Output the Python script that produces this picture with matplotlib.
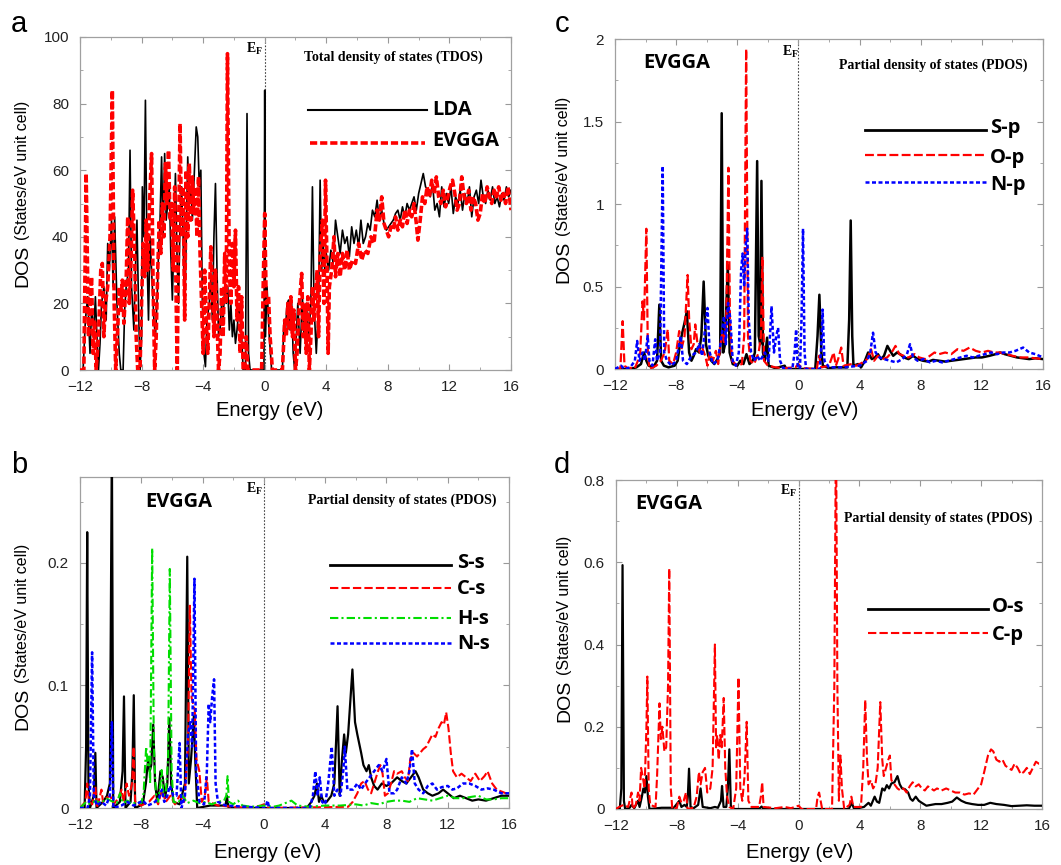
import matplotlib
matplotlib.use("Agg")
import matplotlib.pyplot as plt
from matplotlib.lines import Line2D
from matplotlib.ticker import MultipleLocator, FuncFormatter

plt.rcParams['font.family'] = ['Liberation Sans', 'DejaVu Sans']
plt.rcParams['mathtext.fontset'] = 'custom'
plt.rcParams['mathtext.rm'] = 'Liberation Serif:bold'

# ---------------- data: (Energy eV, DOS) pairs ----------------
# Panel a : total DOS
tdos_lda = [(-12,0),(-11.8,0),(-11.65,15),(-11.5,22),(-11.35,5),(-11.25,18),(-11.1,12),(-11.0,22),(-10.9,10),(-10.8,0),(-10.7,8),(-10.6,20),(-10.45,25),(-10.3,15),(-10.2,38),(-10.1,30),(-9.95,45),(-9.85,25),(-9.75,46),(-9.6,20),(-9.45,5),(-9.35,0),(-9.2,0),(-9.1,18),(-9.0,25),(-8.85,30),(-8.75,66),(-8.65,25),(-8.5,12),(-8.4,30),(-8.3,45),(-8.2,20),(-8.1,0),(-8.0,10),(-7.95,55),(-7.85,40),(-7.75,81),(-7.65,35),(-7.55,15),(-7.45,40),(-7.35,30),(-7.2,15),(-7.1,10),(-7.0,20),(-6.9,35),(-6.8,45),(-6.7,64),(-6.6,40),(-6.5,65),(-6.4,45),(-6.3,50),(-6.2,55),(-6.1,35),(-6.0,21),(-5.9,40),(-5.8,59),(-5.7,35),(-5.6,20),(-5.5,45),(-5.4,55),(-5.3,40),(-5.2,15),(-5.1,40),(-5.0,64),(-4.9,50),(-4.8,55),(-4.7,45),(-4.55,62),(-4.45,73),(-4.35,70),(-4.25,55),(-4.15,60),(-4.05,20),(-3.95,5),(-3.85,1),(-3.75,15),(-3.6,20),(-3.5,28),(-3.4,15),(-3.3,40),(-3.2,56),(-3.1,30),(-3.0,10),(-2.9,12),(-2.8,20),(-2.7,15),(-2.6,25),(-2.5,20),(-2.4,25),(-2.3,12),(-2.2,20),(-2.1,10),(-2.0,15),(-1.9,8),(-1.8,12),(-1.65,20),(-1.5,10),(-1.4,0),(-1.25,0),(-1.15,77),(-1.05,5),(-0.95,0),(-0.05,0),(0.0,84),(0.05,10),(0.15,25),(0.3,10),(0.45,0),(1.15,0),(1.25,15),(1.35,12),(1.45,20),(1.55,21),(1.65,12),(1.75,20),(1.85,5),(1.95,0),(2.05,10),(2.15,20),(2.3,5),(2.45,22),(2.55,10),(2.7,20),(2.85,10),(3.0,20),(3.1,55),(3.2,20),(3.35,5),(3.5,20),(3.6,57),(3.7,30),(3.8,38),(3.9,30),(4.0,35),(4.15,30),(4.3,36),(4.45,32),(4.6,45),(4.75,40),(4.9,35),(5.05,42),(5.2,38),(5.35,40),(5.5,34),(5.65,43),(5.8,38),(5.95,42),(6.1,37),(6.25,45),(6.4,38),(6.55,40),(6.7,44),(6.85,42),(7.0,48),(7.15,46),(7.3,51),(7.45,45),(7.6,48),(7.75,44),(7.9,42),(8.05,43),(8.2,44),(8.35,45),(8.5,47),(8.65,48),(8.8,45),(8.95,49),(9.1,46),(9.25,50),(9.4,48),(9.55,50),(9.7,52),(9.85,48),(10.0,53),(10.15,56),(10.3,59),(10.45,55),(10.6,54),(10.75,52),(10.9,56),(11.05,48),(11.2,50),(11.35,46),(11.5,55),(11.65,49),(11.8,53),(11.95,50),(12.1,55),(12.25,47),(12.4,52),(12.55,50),(12.7,54),(12.85,48),(13.0,53),(13.15,50),(13.3,55),(13.45,46),(13.6,52),(13.75,54),(13.9,50),(14.05,57),(14.2,52),(14.35,50),(14.5,54),(14.65,51),(14.8,55),(14.95,50),(15.1,52),(15.25,49),(15.4,53),(15.55,51),(15.7,55),(15.85,52),(16.0,54)]
tdos_evgga = [(-12.0,0),(-11.75,0),(-11.6,59),(-11.45,10),(-11.35,20),(-11.25,28),(-11.15,5),(-11.05,15),(-10.95,0),(-10.8,10),(-10.65,30),(-10.55,32),(-10.45,10),(-10.35,20),(-10.2,25),(-10.05,40),(-9.9,84),(-9.78,20),(-9.68,0),(-9.55,12),(-9.45,25),(-9.35,18),(-9.25,27),(-9.15,14),(-9.0,27),(-8.9,46),(-8.8,20),(-8.7,30),(-8.58,54),(-8.45,35),(-8.35,10),(-8.25,0),(-8.1,0),(-8.0,20),(-7.9,38),(-7.8,28),(-7.7,45),(-7.6,30),(-7.5,48),(-7.35,65),(-7.25,25),(-7.15,0),(-7.05,10),(-6.95,30),(-6.85,45),(-6.75,35),(-6.65,50),(-6.55,40),(-6.45,62),(-6.35,50),(-6.25,66),(-6.15,45),(-6.05,50),(-5.95,30),(-5.85,55),(-5.75,20),(-5.68,0),(-5.6,40),(-5.5,74),(-5.4,40),(-5.3,55),(-5.2,15),(-5.1,60),(-5.0,40),(-4.9,62),(-4.8,45),(-4.7,58),(-4.6,47),(-4.5,55),(-4.4,40),(-4.3,58),(-4.2,35),(-4.1,20),(-4.0,5),(-3.9,30),(-3.8,15),(-3.7,5),(-3.6,20),(-3.5,37),(-3.4,25),(-3.3,10),(-3.2,30),(-3.1,15),(-3.0,0),(-2.9,5),(-2.8,25),(-2.7,10),(-2.6,35),(-2.5,20),(-2.42,95),(-2.3,30),(-2.2,20),(-2.1,38),(-2.0,25),(-1.9,42),(-1.8,15),(-1.7,25),(-1.6,5),(-1.5,22),(-1.4,0),(-1.3,0),(-1.2,10),(-1.1,0),(-0.2,0),(-0.1,25),(0.0,47),(0.1,20),(0.25,22),(0.35,10),(0.5,0),(1.15,0),(1.3,15),(1.4,10),(1.5,20),(1.6,12),(1.7,22),(1.8,10),(1.9,18),(2.0,0),(2.1,5),(2.25,20),(2.4,29),(2.5,10),(2.6,20),(2.7,5),(2.8,22),(2.9,0),(3.0,10),(3.1,25),(3.2,15),(3.4,30),(3.5,10),(3.6,35),(3.75,45),(3.85,20),(3.95,57),(4.05,30),(4.12,5),(4.2,25),(4.35,30),(4.5,40),(4.6,28),(4.75,35),(4.9,28),(5.05,35),(5.2,30),(5.35,36),(5.5,30),(5.7,33),(5.9,32),(6.1,38),(6.3,33),(6.5,36),(6.7,35),(6.9,40),(7.1,38),(7.3,48),(7.45,45),(7.6,52),(7.75,44),(7.9,42),(8.05,40),(8.2,43),(8.35,42),(8.5,46),(8.65,42),(8.8,45),(8.95,43),(9.1,48),(9.25,44),(9.4,48),(9.55,46),(9.7,50),(9.85,44),(9.95,39),(10.1,45),(10.25,52),(10.4,50),(10.55,55),(10.7,52),(10.85,57),(11.0,53),(11.15,58),(11.3,52),(11.45,50),(11.6,54),(11.75,49),(11.9,52),(12.05,55),(12.2,57),(12.35,53),(12.5,48),(12.65,50),(12.8,58),(12.95,52),(13.1,50),(13.25,54),(13.4,48),(13.55,52),(13.7,50),(13.85,45),(14.0,47),(14.15,53),(14.3,50),(14.45,55),(14.6,52),(14.75,50),(14.9,54),(15.05,52),(15.2,55),(15.35,51),(15.5,53),(15.65,50),(15.8,55),(15.9,52),(16.0,48)]

# Panel b : s-states
pdos_S_s = [(-12,0),(-11.7,0),(-11.6,0.05),(-11.53,0.225),(-11.45,0.02),(-11.35,0.0),(-11.1,0.01),(-11.0,0.045),(-10.92,0.0),(-10.5,0.005),(-10.24,0.01),(-10.05,0.02),(-9.92,0.3),(-9.83,0.0),(-9.4,0.005),(-9.22,0.03),(-9.13,0.091),(-9.03,0.0),(-8.7,0.005),(-8.58,0.03),(-8.49,0.092),(-8.4,0.0),(-7.9,0.003),(-7.7,0.02),(-7.55,0.04),(-7.45,0.03),(-7.35,0.035),(-7.22,0.068),(-7.1,0.02),(-6.95,0.005),(-6.75,0.03),(-6.6,0.025),(-6.45,0.008),(-6.3,0.02),(-6.17,0.073),(-6.05,0.02),(-5.9,0.005),(-5.5,0.003),(-5.15,0.02),(-5.0,0.205),(-4.9,0.02),(-4.75,0.04),(-4.57,0.075),(-4.48,0.04),(-4.35,0.0),(-3.5,0.002),(-2.5,0.002),(-2.42,0.01),(-2.3,0.0),(2.8,0.0),(3.1,0.005),(3.3,0.01),(3.47,0.02),(3.6,0.005),(3.75,0.01),(3.9,0.005),(4.1,0.005),(4.4,0.01),(4.6,0.02),(4.81,0.083),(4.95,0.01),(5.1,0.04),(5.24,0.06),(5.35,0.045),(5.5,0.06),(5.78,0.113),(5.95,0.07),(6.1,0.06),(6.35,0.045),(6.5,0.035),(6.7,0.03),(6.85,0.035),(7.0,0.025),(7.2,0.018),(7.42,0.015),(7.7,0.02),(8.0,0.018),(8.3,0.02),(8.7,0.025),(9.0,0.022),(9.3,0.02),(9.6,0.025),(9.9,0.03),(10.1,0.025),(10.4,0.015),(10.7,0.012),(11.0,0.01),(11.4,0.012),(11.7,0.015),(12.0,0.012),(12.4,0.008),(12.8,0.01),(13.2,0.008),(13.6,0.006),(14.0,0.007),(14.5,0.006),(15.0,0.008),(15.5,0.01),(16.0,0.01)]
pdos_C_s = [(-12,0),(-11.65,0.005),(-11.53,0.02),(-11.42,0.005),(-11.2,0.003),(-11.0,0.018),(-10.88,0.0),(-10.6,0.015),(-10.5,0.005),(-10.3,0.008),(-10.03,0.01),(-9.8,0.003),(-9.5,0.008),(-9.28,0.015),(-9.15,0.005),(-8.96,0.02),(-8.8,0.01),(-8.6,0.02),(-8.5,0.05),(-8.4,0.005),(-8.0,0.002),(-7.5,0.005),(-7.14,0.01),(-6.9,0.003),(-6.65,0.015),(-6.4,0.005),(-6.1,0.01),(-5.8,0.003),(-5.5,0.01),(-5.2,0.005),(-4.95,0.05),(-4.83,0.165),(-4.72,0.09),(-4.51,0.08),(-4.4,0.04),(-4.21,0.03),(-4.05,0.005),(-3.85,0.01),(-3.72,0.025),(-3.6,0.005),(-3.0,0.002),(-1.0,0.0),(-0.2,0.002),(0.0,0.003),(0.3,0.0),(5.5,0.001),(5.8,0.005),(6.1,0.012),(6.35,0.02),(6.57,0.022),(6.8,0.015),(7.0,0.012),(7.2,0.02),(7.45,0.03),(7.6,0.035),(7.75,0.028),(7.9,0.01),(8.1,0.012),(8.3,0.02),(8.5,0.03),(8.7,0.028),(9.0,0.03),(9.2,0.025),(9.4,0.022),(9.56,0.04),(9.75,0.045),(10.0,0.042),(10.2,0.045),(10.4,0.048),(10.6,0.05),(10.8,0.055),(11.0,0.06),(11.2,0.058),(11.4,0.065),(11.6,0.07),(11.75,0.068),(11.9,0.078),(12.05,0.065),(12.2,0.045),(12.35,0.03),(12.6,0.025),(12.9,0.028),(13.2,0.025),(13.5,0.022),(13.8,0.028),(14.1,0.022),(14.4,0.026),(14.6,0.03),(14.9,0.02),(15.2,0.015),(15.6,0.013),(16.0,0.011)]
pdos_H_s = [(-12,0),(-11.6,0.005),(-11.3,0.003),(-11.0,0.006),(-10.6,0.004),(-10.3,0.008),(-10.0,0.006),(-9.6,0.004),(-9.39,0.012),(-9.2,0.004),(-8.9,0.006),(-8.6,0.003),(-8.3,0.005),(-8.0,0.004),(-7.85,0.012),(-7.75,0.035),(-7.68,0.05),(-7.58,0.035),(-7.5,0.042),(-7.42,0.02),(-7.29,0.212),(-7.18,0.05),(-7.05,0.012),(-6.9,0.005),(-6.75,0.02),(-6.67,0.031),(-6.55,0.01),(-6.4,0.012),(-6.25,0.04),(-6.14,0.195),(-6.02,0.03),(-5.9,0.005),(-5.6,0.004),(-5.3,0.01),(-5.0,0.004),(-4.6,0.006),(-4.2,0.004),(-3.8,0.005),(-3.4,0.003),(-3.0,0.005),(-2.6,0.006),(-2.45,0.01),(-2.37,0.026),(-2.28,0.005),(-2.0,0.003),(-1.69,0.006),(-1.4,0.002),(-0.8,0.001),(0.0,0.002),(0.6,0.001),(1.0,0.002),(1.4,0.004),(1.8,0.006),(2.2,0.002),(3.0,0.001),(4.0,0.002),(5.0,0.002),(6.0,0.003),(6.5,0.002),(7.0,0.004),(7.5,0.003),(8.0,0.005),(8.5,0.006),(9.0,0.006),(9.5,0.005),(10.0,0.008),(10.5,0.007),(11.0,0.006),(11.5,0.008),(12.0,0.01),(12.5,0.008),(13.0,0.008),(13.5,0.009),(14.0,0.01),(14.5,0.007),(15.0,0.007),(15.5,0.008),(16.0,0.008)]
pdos_N_s = [(-12,0),(-11.5,0.0),(-11.35,0.01),(-11.21,0.127),(-11.1,0.01),(-10.9,0.002),(-10.6,0.005),(-10.3,0.002),(-10.05,0.01),(-9.92,0.07),(-9.82,0.0),(-9.3,0.002),(-8.9,0.005),(-8.5,0.002),(-7.89,0.006),(-7.6,0.002),(-7.2,0.004),(-6.85,0.008),(-6.65,0.015),(-6.5,0.005),(-6.3,0.01),(-6.14,0.018),(-5.9,0.01),(-5.7,0.01),(-5.5,0.053),(-5.38,0.0),(-5.15,0.01),(-4.95,0.06),(-4.8,0.07),(-4.68,0.05),(-4.53,0.187),(-4.42,0.03),(-4.2,0.005),(-3.9,0.003),(-3.72,0.03),(-3.6,0.085),(-3.5,0.07),(-3.38,0.09),(-3.25,0.105),(-3.15,0.02),(-3.0,0.005),(-2.5,0.002),(0.1,0.0),(0.24,0.006),(0.35,0.0),(3.0,0.0),(3.2,0.01),(3.36,0.03),(3.5,0.01),(3.65,0.025),(3.8,0.005),(4.0,0.003),(4.2,0.02),(4.43,0.05),(4.6,0.01),(4.8,0.015),(5.0,0.01),(5.18,0.03),(5.28,0.05),(5.45,0.015),(5.82,0.015),(6.1,0.02),(6.35,0.015),(6.6,0.02),(6.9,0.025),(7.2,0.03),(7.5,0.035),(7.75,0.03),(8.0,0.04),(8.2,0.012),(8.5,0.012),(8.7,0.015),(9.0,0.025),(9.3,0.02),(9.5,0.03),(9.67,0.048),(9.85,0.02),(10.1,0.015),(10.4,0.012),(10.7,0.018),(11.0,0.02),(11.3,0.015),(11.6,0.017),(12.0,0.018),(12.3,0.015),(12.6,0.016),(13.0,0.02),(13.4,0.02),(13.8,0.018),(14.2,0.015),(14.6,0.016),(15.0,0.015),(15.5,0.012),(16.0,0.012)]

# Panel c : p-states
pdos_S_p = [(-12,0),(-11.0,0),(-10.6,0.01),(-10.3,0.03),(-10.1,0.1),(-9.95,0.05),(-9.8,0.02),(-9.5,0.01),(-9.25,0.05),(-9.1,0.39),(-8.98,0.05),(-8.8,0.02),(-8.5,0.01),(-8.1,0.02),(-7.9,0.05),(-7.75,0.15),(-7.6,0.22),(-7.45,0.28),(-7.3,0.35),(-7.15,0.1),(-7.0,0.05),(-6.85,0.08),(-6.7,0.12),(-6.5,0.1),(-6.35,0.2),(-6.2,0.53),(-6.05,0.15),(-5.9,0.08),(-5.7,0.05),(-5.5,0.03),(-5.3,0.06),(-5.12,0.1),(-5.02,1.55),(-4.92,0.1),(-4.8,0.15),(-4.62,0.63),(-4.5,0.1),(-4.3,0.03),(-4.0,0.02),(-3.8,0.05),(-3.6,0.03),(-3.4,0.09),(-3.2,0.03),(-3.0,0.05),(-2.85,0.1),(-2.7,1.26),(-2.6,0.2),(-2.5,0.15),(-2.42,1.14),(-2.32,0.1),(-2.2,0.05),(-2.05,0.19),(-1.95,0.02),(-1.5,0.005),(-0.9,0.02),(-0.8,0.0),(1.1,0.0),(1.25,0.2),(1.37,0.45),(1.5,0.1),(1.6,0.02),(2.0,0.005),(2.4,0.01),(3.2,0.01),(3.32,0.3),(3.42,0.9),(3.52,0.2),(3.6,0.02),(3.9,0.03),(4.1,0.01),(4.35,0.05),(4.56,0.1),(4.8,0.06),(5.0,0.07),(5.2,0.09),(5.4,0.06),(5.6,0.08),(5.82,0.14),(6.0,0.11),(6.2,0.08),(6.45,0.1),(6.65,0.09),(6.9,0.07),(7.2,0.06),(7.5,0.08),(7.8,0.06),(8.15,0.05),(8.5,0.045),(8.8,0.055),(9.2,0.05),(9.6,0.045),(10.0,0.05),(10.4,0.055),(10.8,0.06),(11.2,0.065),(11.6,0.07),(12.0,0.07),(12.5,0.08),(12.9,0.09),(13.2,0.1),(13.5,0.09),(13.9,0.08),(14.3,0.07),(14.7,0.065),(15.1,0.06),(15.5,0.065),(16.0,0.06)]
pdos_O_p = [(-12,0),(-11.65,0.0),(-11.5,0.29),(-11.38,0.02),(-11.1,0.0),(-10.9,0.01),(-10.7,0.005),(-10.5,0.05),(-10.35,0.1),(-10.2,0.41),(-10.1,0.3),(-9.95,0.85),(-9.85,0.1),(-9.75,0.0),(-9.3,0.02),(-9.0,0.05),(-8.75,0.1),(-8.55,0.24),(-8.45,0.05),(-8.2,0.03),(-8.0,0.1),(-7.8,0.23),(-7.65,0.12),(-7.45,0.2),(-7.25,0.57),(-7.15,0.3),(-7.0,0.12),(-6.85,0.15),(-6.75,0.27),(-6.6,0.15),(-6.45,0.1),(-6.3,0.13),(-6.1,0.08),(-5.95,0.02),(-5.8,0.1),(-5.6,0.05),(-5.4,0.11),(-5.25,0.03),(-5.1,0.15),(-4.98,0.22),(-4.85,0.15),(-4.72,0.3),(-4.58,1.22),(-4.48,0.3),(-4.35,0.05),(-4.0,0.02),(-3.7,0.03),(-3.55,0.2),(-3.42,1.94),(-3.3,0.2),(-3.15,0.05),(-2.9,0.03),(-2.6,0.1),(-2.45,0.2),(-2.36,0.68),(-2.25,0.05),(-2.0,0.02),(-1.5,0.01),(-1.0,0.005),(-0.2,0.01),(0.0,0.03),(0.2,0.005),(1.2,0.0),(1.35,0.08),(1.5,0.01),(2.0,0.02),(2.3,0.1),(2.45,0.02),(2.6,0.06),(2.8,0.13),(2.95,0.02),(3.5,0.03),(3.8,0.02),(4.2,0.04),(4.5,0.06),(4.75,0.12),(4.95,0.05),(5.2,0.08),(5.5,0.06),(5.8,0.07),(6.1,0.1),(6.35,0.14),(6.6,0.09),(6.9,0.08),(7.2,0.07),(7.6,0.09),(7.9,0.07),(8.3,0.06),(8.6,0.08),(8.9,0.1),(9.2,0.09),(9.6,0.1),(10.0,0.09),(10.4,0.12),(10.8,0.11),(11.2,0.13),(11.6,0.11),(12.0,0.1),(12.4,0.11),(12.8,0.1),(13.2,0.1),(13.6,0.09),(14.0,0.08),(14.5,0.07),(15.0,0.07),(15.5,0.065),(16.0,0.06)]
pdos_N_p = [(-12,0),(-11.6,0.02),(-11.4,0.0),(-11.0,0.01),(-10.7,0.05),(-10.55,0.17),(-10.4,0.05),(-10.2,0.1),(-10.05,0.05),(-9.86,0.2),(-9.75,0.05),(-9.55,0.02),(-9.37,0.18),(-9.25,0.05),(-9.05,0.1),(-8.88,1.23),(-8.78,0.1),(-8.6,0.05),(-8.3,0.02),(-8.0,0.05),(-7.7,0.2),(-7.55,0.05),(-7.3,0.03),(-7.0,0.08),(-6.7,0.1),(-6.5,0.15),(-6.3,0.08),(-6.1,0.25),(-5.95,0.37),(-5.8,0.1),(-5.6,0.03),(-5.3,0.05),(-5.1,0.15),(-4.87,0.32),(-4.75,0.15),(-4.6,0.4),(-4.45,0.3),(-4.3,0.05),(-4.1,0.02),(-3.9,0.1),(-3.75,0.6),(-3.65,0.7),(-3.55,0.5),(-3.45,0.75),(-3.35,0.85),(-3.25,0.3),(-3.1,0.1),(-2.9,0.05),(-2.7,0.08),(-2.5,0.05),(-2.2,0.1),(-1.95,0.05),(-1.76,0.38),(-1.6,0.1),(-1.45,0.2),(-1.33,0.25),(-1.2,0.05),(-1.0,0.005),(-0.4,0.0),(-0.25,0.1),(-0.15,0.24),(-0.05,0.02),(0.1,0.0),(0.2,0.3),(0.3,0.85),(0.4,0.1),(0.5,0.0),(1.4,0.0),(1.5,0.15),(1.58,0.36),(1.7,0.05),(2.0,0.01),(3.0,0.01),(4.0,0.02),(4.5,0.05),(4.7,0.1),(4.88,0.22),(5.05,0.1),(5.3,0.07),(5.6,0.06),(6.0,0.05),(6.4,0.04),(6.8,0.06),(7.1,0.09),(7.3,0.15),(7.5,0.07),(7.8,0.05),(8.2,0.06),(8.6,0.04),(9.0,0.05),(9.4,0.04),(9.8,0.05),(10.2,0.06),(10.6,0.07),(11.0,0.08),(11.4,0.07),(11.8,0.08),(12.2,0.09),(12.6,0.1),(13.0,0.09),(13.4,0.1),(13.8,0.1),(14.2,0.11),(14.7,0.13),(15.1,0.1),(15.5,0.09),(16.0,0.07)]

# Panel d : O-s and C-p
pdos_O_s = [(-12,0),(-11.75,0.0),(-11.65,0.05),(-11.57,0.593),(-11.48,0.02),(-11.4,0.0),(-11.1,0.003),(-10.98,0.01),(-10.8,0.002),(-10.55,0.02),(-10.45,0.005),(-10.3,0.03),(-10.2,0.05),(-10.1,0.04),(-10.0,0.08),(-9.9,0.03),(-9.8,0.0),(-9.0,0.003),(-8.2,0.003),(-7.84,0.02),(-7.7,0.005),(-7.5,0.01),(-7.35,0.005),(-7.28,0.03),(-7.2,0.098),(-7.1,0.005),(-6.9,0.002),(-6.6,0.01),(-6.44,0.05),(-6.3,0.005),(-5.8,0.002),(-5.5,0.005),(-5.3,0.003),(-5.1,0.02),(-5.03,0.056),(-4.93,0.005),(-4.75,0.005),(-4.65,0.05),(-4.55,0.145),(-4.45,0.005),(-4.2,0.0),(-2.6,0.0),(-2.43,0.006),(-2.3,0.0),(3.3,0.0),(3.5,0.015),(3.65,0.0),(4.3,0.005),(4.6,0.015),(4.75,0.008),(5.0,0.03),(5.15,0.018),(5.3,0.015),(5.5,0.05),(5.65,0.045),(5.8,0.058),(5.95,0.05),(6.1,0.062),(6.3,0.065),(6.5,0.08),(6.65,0.06),(6.8,0.05),(7.0,0.048),(7.2,0.04),(7.35,0.025),(7.5,0.02),(7.7,0.03),(7.9,0.02),(8.1,0.015),(8.4,0.008),(8.7,0.01),(9.0,0.012),(9.4,0.012),(9.8,0.015),(10.1,0.018),(10.4,0.028),(10.7,0.02),(11.0,0.015),(11.4,0.012),(11.8,0.01),(12.2,0.01),(12.6,0.015),(13.0,0.012),(13.5,0.01),(14.0,0.007),(14.5,0.008),(15.0,0.009),(15.5,0.008),(16.0,0.008)]
pdos_C_p = [(-12,0),(-11.8,0.005),(-11.5,0.01),(-11.2,0.005),(-10.98,0.04),(-10.9,0.0),(-10.7,0.01),(-10.55,0.04),(-10.45,0.02),(-10.35,0.1),(-10.25,0.08),(-10.12,0.05),(-10.0,0.2),(-9.94,0.322),(-9.85,0.05),(-9.75,0.01),(-9.4,0.005),(-9.3,0.08),(-9.14,0.257),(-9.05,0.17),(-8.95,0.2),(-8.82,0.14),(-8.7,0.15),(-8.58,0.3),(-8.5,0.585),(-8.4,0.05),(-8.3,0.0),(-8.0,0.003),(-7.84,0.03),(-7.7,0.015),(-7.55,0.02),(-7.4,0.04),(-7.3,0.0),(-6.9,0.003),(-6.7,0.03),(-6.55,0.09),(-6.44,0.06),(-6.3,0.09),(-6.15,0.1),(-6.0,0.04),(-5.8,0.05),(-5.65,0.1),(-5.5,0.4),(-5.42,0.15),(-5.35,0.18),(-5.25,0.12),(-5.15,0.18),(-5.05,0.15),(-4.92,0.27),(-4.82,0.1),(-4.7,0.03),(-4.55,0.005),(-4.3,0.0),(-4.1,0.05),(-3.95,0.32),(-3.83,0.05),(-3.7,0.02),(-3.55,0.08),(-3.41,0.212),(-3.3,0.02),(-3.1,0.005),(-2.6,0.005),(-2.48,0.03),(-2.39,0.065),(-2.3,0.005),(-1.5,0.002),(-0.92,0.005),(-0.5,0.002),(0.0,0.008),(0.2,0.0),(1.15,0.0),(1.25,0.03),(1.35,0.04),(1.45,0.02),(1.55,0.0),(2.2,0.0),(2.35,0.3),(2.46,0.95),(2.55,0.3),(2.65,0.02),(2.75,0.13),(2.85,0.05),(3.0,0.0),(3.35,0.01),(3.47,0.03),(3.6,0.005),(4.1,0.005),(4.25,0.1),(4.38,0.265),(4.5,0.12),(4.6,0.06),(4.75,0.07),(4.9,0.05),(5.05,0.06),(5.2,0.1),(5.37,0.26),(5.5,0.12),(5.6,0.08),(5.75,0.1),(5.9,0.12),(6.0,0.13),(6.1,0.07),(6.3,0.06),(6.5,0.05),(6.7,0.045),(6.9,0.05),(7.1,0.04),(7.3,0.055),(7.5,0.065),(7.7,0.055),(7.9,0.06),(8.1,0.05),(8.3,0.045),(8.5,0.055),(8.7,0.05),(8.9,0.045),(9.1,0.05),(9.4,0.045),(9.7,0.05),(10.0,0.045),(10.3,0.04),(10.6,0.04),(10.9,0.035),(11.2,0.038),(11.5,0.035),(11.8,0.05),(12.0,0.06),(12.2,0.09),(12.45,0.13),(12.65,0.145),(12.8,0.14),(13.0,0.12),(13.2,0.115),(13.4,0.12),(13.6,0.105),(13.8,0.1),(14.0,0.095),(14.2,0.11),(14.4,0.1),(14.6,0.085),(14.8,0.09),(15.0,0.1),(15.2,0.085),(15.4,0.1),(15.6,0.115),(15.8,0.11),(16.0,0.11)]

x_ticks_major = 4
x_range = (-12, 16)

# ---------------- figure ----------------
W, H = 1061, 865
fig = plt.figure(figsize=(W / 100, H / 100), dpi=100)

RED = '#ff0000'
BLUE = '#0000ff'
GREEN = '#00dd00'
SPINE = '#a0a0a0'

RED_A = (0, (2.0, 0.8))
RED_DASH = (0, (4.0, 1.5))
BLUE_DASH = (0, (1.6, 1.0))
GREEN_DD = (0, (4.0, 1.5, 1.0, 1.5))


def xy(pairs):
    return [p[0] for p in pairs], [p[1] for p in pairs]


def fmt(v, pos):
    s = f"{round(v, 6):g}"
    return s.replace('-', '\u2212')


def make_axes(box, ymax, ymaj, ymin):
    l, t, r, b = box
    ax = fig.add_axes([l / W, 1 - b / H, (r - l) / W, (b - t) / H])
    ax.set_xlim(*x_range)
    ax.set_ylim(0, ymax)
    ax.xaxis.set_major_locator(MultipleLocator(x_ticks_major))
    ax.xaxis.set_minor_locator(MultipleLocator(2))
    ax.yaxis.set_major_locator(MultipleLocator(ymaj))
    ax.yaxis.set_minor_locator(MultipleLocator(ymin))
    ax.xaxis.set_major_formatter(FuncFormatter(fmt))
    ax.yaxis.set_major_formatter(FuncFormatter(fmt))
    ax.tick_params(which='both', direction='in', top=True, right=True,
                   color='#999999', labelsize=11, labelcolor='#222222')
    ax.tick_params(which='major', length=4, width=0.8)
    ax.tick_params(which='minor', length=2.5, width=0.6)
    ax.tick_params(axis='x', pad=7)
    ax.tick_params(axis='y', pad=8)
    for s in ax.spines.values():
        s.set_color(SPINE)
        s.set_linewidth(0.9)
    ax.axvline(0, color='#444444', lw=0.8, ls=(0, (1.5, 1.5)), zorder=1)
    return ax


def ftext(x, y, s, **kw):
    fig.text(x / W, 1 - y / H, s, **kw)


def legline(x0, x1, y, **kw):
    fig.add_artist(Line2D([x0 / W, x1 / W], [1 - y / H, 1 - y / H], **kw))


def ylab(xb, ydos):
    ftext(xb, ydos, 'DOS', rotation=90, rotation_mode='anchor', ha='left',
          va='baseline', fontsize=14)
    ftext(xb, ydos - 47, '(States/eV unit cell)', rotation=90, rotation_mode='anchor',
          ha='left', va='baseline', fontsize=11.5)


def common(xcenter_ax, ycenter_xl, ylab_x, ylab_y, letter, lx, ly, efx, efy):
    ftext(xcenter_ax, ycenter_xl, 'Energy (eV)', ha='center', va='center', fontsize=14.5)
    ylab(ylab_x, ylab_y)
    ftext(lx, ly, letter, ha='center', va='baseline', fontsize=21)
    ftext(efx, efy, r'$\mathrm{E_F}$', ha='left', va='baseline', fontsize=10)


BOLD = dict(fontfamily='Open Sans', fontweight='bold', fontsize=14.5)
SERIF = dict(fontfamily='Liberation Serif', fontweight='bold', fontsize=10)

# ---- panel a ----
axa = make_axes((80, 37, 511, 370), 100, 20, 10)
axa.plot(*xy(tdos_lda), color='black', lw=1.2, zorder=3)
axa.plot(*xy(tdos_evgga), color=RED, lw=2.6, ls=RED_A, zorder=4)
common(270, 410, 27, 287, 'a', 19, 32, 246, 53)
ftext(393, 61, 'Total density of states (TDOS)', ha='center', va='baseline', **SERIF)
legline(308, 427, 110, color='black', lw=1.5)
legline(310, 425, 143, color=RED, lw=2.6, ls=RED_A)
ftext(432, 115, 'LDA', ha='left', va='baseline', **BOLD)
ftext(432, 146, 'EVGGA', ha='left', va='baseline', **BOLD)

# ---- panel c ----
axc = make_axes((615, 39, 1043, 369), 2, 0.5, 0.25)
axc.plot(*xy(pdos_S_p), color='black', lw=1.8, zorder=3)
axc.plot(*xy(pdos_O_p), color=RED, lw=1.6, ls=RED_DASH, zorder=4)
axc.plot(*xy(pdos_N_p), color=BLUE, lw=1.8, ls=BLUE_DASH, zorder=5)
common(805, 410, 568, 283, 'c', 562, 32, 782, 56)
ftext(933, 69, 'Partial density of states (PDOS)', ha='center', va='baseline', **SERIF)
ftext(677, 68, 'EVGGA', ha='center', va='baseline', **BOLD)
legline(865, 986, 130, color='black', lw=2)
legline(865, 986, 155, color=RED, lw=1.6, ls=RED_DASH)
legline(865, 986, 182, color=BLUE, lw=1.8, ls=BLUE_DASH)
ftext(990, 133, 'S-p', ha='left', va='baseline', **BOLD)
ftext(990, 163, 'O-p', ha='left', va='baseline', **BOLD)
ftext(990, 190, 'N-p', ha='left', va='baseline', **BOLD)

# ---- panel b ----
axb = make_axes((80, 477, 509, 808), 0.27, 0.1, 0.05)
axb.plot(*xy(pdos_S_s), color='black', lw=1.6, zorder=3)
axb.plot(*xy(pdos_C_s), color=RED, lw=1.5, ls=RED_DASH, zorder=4)
axb.plot(*xy(pdos_H_s), color=GREEN, lw=1.5, ls=GREEN_DD, zorder=5)
axb.plot(*xy(pdos_N_s), color=BLUE, lw=1.8, ls=BLUE_DASH, zorder=6)
common(268, 853, 27, 730, 'b', 19, 473, 246, 493)
ftext(402, 504, 'Partial density of states (PDOS)', ha='center', va='baseline', **SERIF)
ftext(179, 507, 'EVGGA', ha='center', va='baseline', **BOLD)
legline(330, 451, 565, color='black', lw=2)
legline(330, 451, 588, color=RED, lw=1.5, ls=RED_DASH)
legline(330, 451, 618, color=GREEN, lw=1.5, ls=GREEN_DD)
legline(330, 451, 643, color=BLUE, lw=1.8, ls=BLUE_DASH)
ftext(457, 568, 'S-s', ha='left', va='baseline', **BOLD)
ftext(457, 594, 'C-s', ha='left', va='baseline', **BOLD)
ftext(457, 624, 'H-s', ha='left', va='baseline', **BOLD)
ftext(457, 649, 'N-s', ha='left', va='baseline', **BOLD)

# ---- panel d ----
axd = make_axes((616, 480, 1042, 809), 0.8, 0.2, 0.1)
axd.plot(*xy(pdos_O_s), color='black', lw=1.6, zorder=3)
axd.plot(*xy(pdos_C_p), color=RED, lw=1.5, ls=RED_DASH, zorder=4)
common(800, 853, 569, 722, 'd', 562, 473, 780, 495)
ftext(938, 522, 'Partial density of states (PDOS)', ha='center', va='baseline', **SERIF)
ftext(669, 509, 'EVGGA', ha='center', va='baseline', **BOLD)
legline(868, 988, 609, color='black', lw=2)
legline(868, 988, 633, color=RED, lw=1.5, ls=RED_DASH)
ftext(992, 612, 'O-s', ha='left', va='baseline', **BOLD)
ftext(992, 640, 'C-p', ha='left', va='baseline', **BOLD)

fig.savefig('out.png', dpi=100)
